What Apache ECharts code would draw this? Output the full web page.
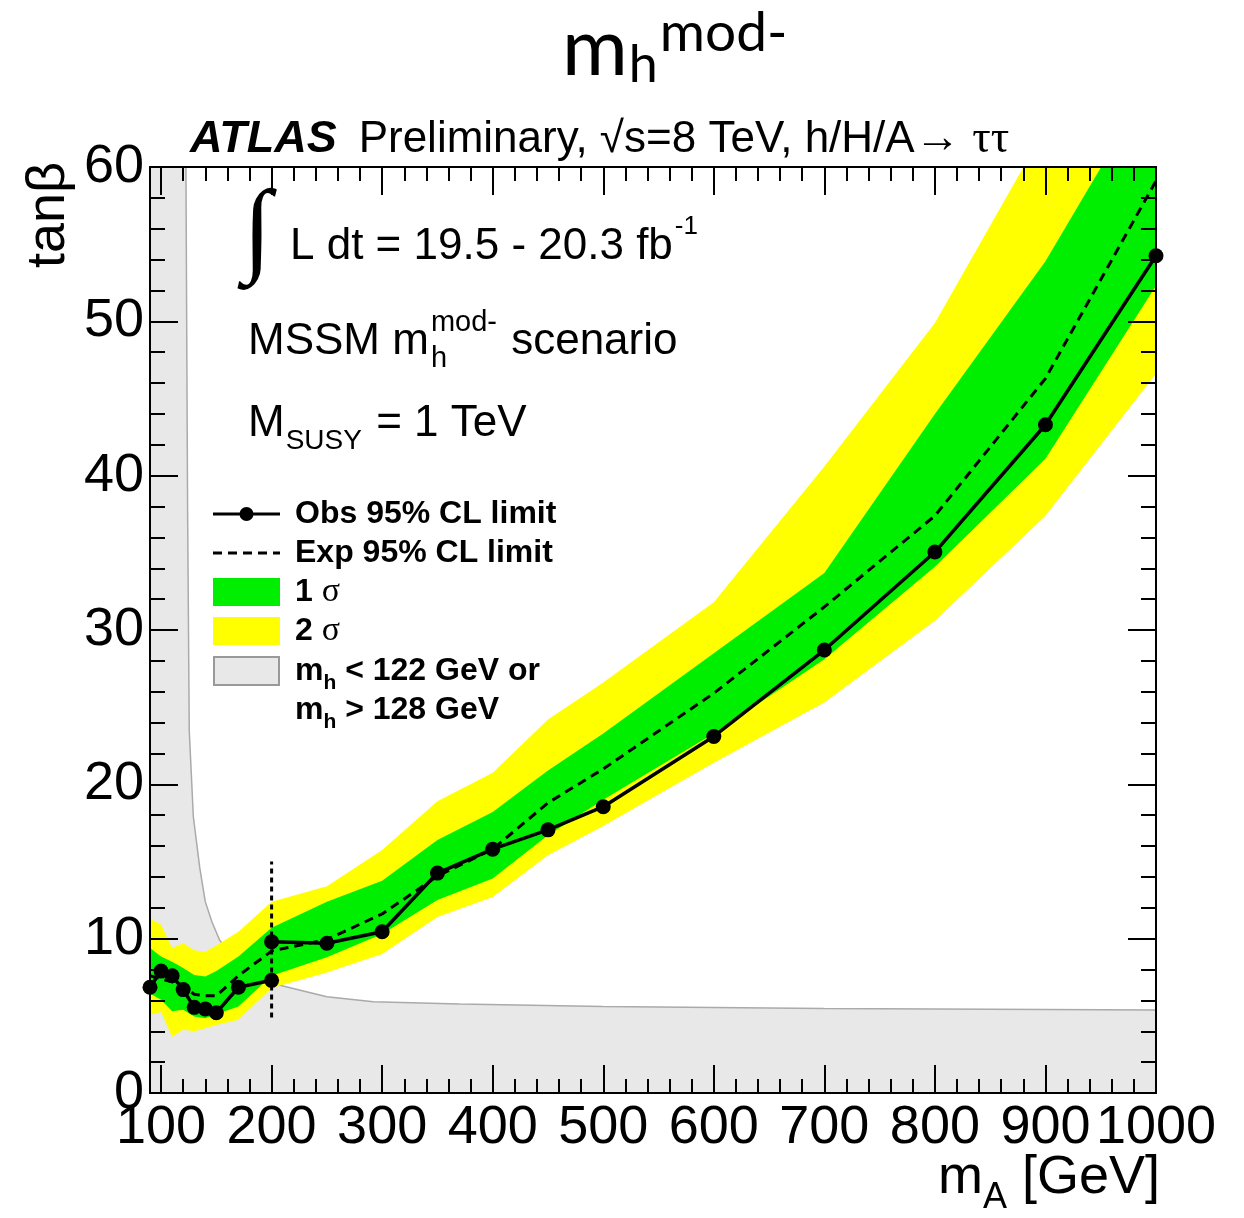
<!DOCTYPE html>
<html>
<head>
<meta charset="utf-8">
<script src="https://cdn.jsdelivr.net/npm/echarts@6/dist/echarts.min.js"></script>
<style>
  html, body { margin: 0; padding: 0; background: #fff; }
  #chart { width: 1244px; height: 1218px; }
</style>
</head>
<body>
<div id="chart"></div>
<script>
// ---- Limits in the (m_A, tan beta) plane ----
// mass points of the expected limit and its uncertainty bands [GeV]
const massPoints = [90, 100, 110, 120, 130, 140, 150, 170, 200, 250, 300, 350, 400, 450, 500, 600, 700, 800, 900, 1000];
const expLimit   = [7.6, 7.4, 7.2, 6.9, 6.4, 6.3, 6.3, 7.6, 9.2, 9.95, 11.6, 14.05, 15.8, 18.8, 21.0, 25.9, 31.5, 37.4, 46.3, 59.1];
const band1Up    = [9.4, 8.85, 8.5, 8.1, 7.65, 7.55, 7.9, 8.85, 10.7, 12.4, 13.75, 16.4, 18.2, 20.9, 23.3, 28.5, 33.7, 44.0, 53.9, 66.0];
const band1Down  = [6.45, 6.05, 5.3, 5.4, 4.95, 4.85, 5.1, 5.6, 7.6, 8.8, 10.3, 12.5, 13.9, 16.7, 19.0, 23.3, 28.1, 34.1, 41.1, 52.3];
const band2Up    = [11.3, 10.9, 9.4, 9.7, 9.25, 9.15, 9.55, 10.45, 12.4, 13.4, 15.75, 18.9, 20.75, 24.2, 26.6, 31.8, 40.6, 49.9, 62.5, 73.0];
const band2Down  = [5.05, 5.25, 3.65, 4.1, 4.0, 4.2, 4.4, 4.75, 6.8, 7.8, 9.0, 11.4, 12.7, 15.4, 17.3, 21.4, 25.3, 30.6, 37.4, 46.6];

// observed limit: low-mass and high-mass analyses, both evaluated at 200 GeV
const obsLowMass  = [90, 100, 110, 120, 130, 140, 150, 170, 200];
const obsLowTanb  = [6.85, 7.9, 7.6, 6.7, 5.55, 5.45, 5.2, 6.85, 7.3];
const obsHighMass = [200, 250, 300, 350, 400, 450, 500, 600, 700, 800, 900, 1000];
const obsHighTanb = [9.8, 9.7, 10.45, 14.25, 15.8, 17.05, 18.55, 23.1, 28.7, 35.05, 43.3, 54.25];

// boundary of the region where m_h < 122 GeV or m_h > 128 GeV
const mhEdgeMass = [90, 122.5, 124.0, 125.5, 129.2, 135, 140, 146, 153, 170, 201, 250, 292, 370, 500, 700, 1000];
const mhEdgeTanb = [60, 60, 38, 23.5, 17.9, 14.6, 12.4, 11.1, 9.9, 8.4, 7.1, 6.24, 5.92, 5.77, 5.6, 5.48, 5.38];

// analysis switch-over marker at 200 GeV
const switchMass = [200, 200];
const switchTanb = [4.9, 15];

// axis ticks
const xMajorTicks = [100, 200, 300, 400, 500, 600, 700, 800, 900, 1000];
const xMinorTicks = [120, 140, 160, 180, 220, 240, 260, 280, 320, 340, 360, 380, 420, 440, 460, 480,
                     520, 540, 560, 580, 620, 640, 660, 680, 720, 740, 760, 780, 820, 840, 860, 880, 920, 940, 960, 980];

const SANS = "'Liberation Sans', Arial, Helvetica, sans-serif";
const SERIF = "'Liberation Serif', 'Times New Roman', serif";
const TITLEFONT = "Lato, 'Open Sans', sans-serif";

const zip = (xs, ys) => xs.map((x, i) => [x, ys[i]]);

// ---- text helpers: runs of text placed on a common baseline ----
const mctx = document.createElement('canvas').getContext('2d');
function fontOf(r) {
  return (r.style || 'normal') + ' ' + (r.weight || 'normal') + ' ' + r.size + 'px ' + (r.family || SANS);
}
function midOffset(fam) {
  if (fam.indexOf('Lato') >= 0) return 0.387;
  if (fam.indexOf('Serif') >= 0) return 0.3375;
  return 0.3465;
}
function runText(x, baseline, runs) {
  const els = [];
  let cx = x, lastStart = x, maxEnd = x;
  runs.forEach(r => {
    const fam = r.family || SANS;
    mctx.font = fontOf(r);
    const w = mctx.measureText(r.text).width;
    let start = r.sameX ? lastStart : cx;
    start += (r.dx || 0);
    const by = baseline + (r.dy || 0);
    els.push({
      type: 'text', x: start, y: by - midOffset(fam) * r.size, silent: true, z: 100,
      style: { text: r.text, font: fontOf(r), fill: '#000',
               align: 'left', verticalAlign: 'middle', textAlign: 'left', textVerticalAlign: 'middle' }
    });
    lastStart = start;
    maxEnd = r.sameX ? Math.max(maxEnd, start + w) : start + w;
    cx = maxEnd;
  });
  return els;
}

// ---- band polygons through the axis scales ----
function bandSeries(name, upper, lower, color, z) {
  return {
    type: 'custom', name: name, z: z, clip: true, silent: true,
    data: [[massPoints[0], lower[0]]],
    renderItem: function (params, api) {
      const pts = [];
      for (let i = 0; i < massPoints.length; i++) pts.push(api.coord([massPoints[i], upper[i]]));
      for (let i = massPoints.length - 1; i >= 0; i--) pts.push(api.coord([massPoints[i], lower[i]]));
      return { type: 'polygon', shape: { points: pts }, style: { fill: color, stroke: null } };
    }
  };
}

function xAxisDef(position, ticks, len, labels) {
  return {
    type: 'value', position: position, min: 90, max: 1000, z: 20,
    axisLine: { show: true, onZero: false, lineStyle: { color: '#000', width: 2 } },
    splitLine: { show: false },
    axisTick: { show: true, inside: true, length: len, customValues: ticks, lineStyle: { color: '#000', width: 2 } },
    axisLabel: labels ? {
      show: true, customValues: xMajorTicks, margin: 8, color: '#000',
      fontSize: 54, fontFamily: SANS, showMinLabel: true, showMaxLabel: true, hideOverlap: false,
      formatter: v => String(v)
    } : { show: false, customValues: ticks }
  };
}
function yAxisDef(position, labels) {
  return {
    type: 'value', position: position, min: 0, max: 60, interval: 10, z: 20,
    axisLine: { show: true, onZero: false, lineStyle: { color: '#000', width: 2 } },
    splitLine: { show: false },
    axisTick: { show: true, inside: true, length: 28, lineStyle: { color: '#000', width: 2 } },
    minorTick: { show: true, splitNumber: 5, length: 15, lineStyle: { color: '#000', width: 2 } },
    axisLabel: labels ? { show: true, margin: 6, color: '#000', fontSize: 54, fontFamily: SANS } : { show: false }
  };
}

const graphics = [].concat(
  // page title
  runText(562, 80, [
    { text: 'm', size: 80, family: TITLEFONT },
    { text: 'h', size: 52, family: TITLEFONT, dy: 5, dx: 1 },
    { text: 'mod-', size: 55, family: TITLEFONT, dy: -25, dx: 2 }
  ]),
  // experiment header
  runText(190, 155, [
    { text: 'ATLAS', size: 45, weight: 'bold', style: 'italic' },
    { text: 'Preliminary, \u221As=8 TeV, h/H/A', size: 44, dx: 22 },
    { text: '\u2192 \u03C4\u03C4', size: 46, family: SERIF }
  ]),
  // luminosity
  runText(243, 270, [{ text: '\u222B', size: 104, family: SERIF }]),
  runText(290, 262, [
    { text: 'L dt = 19.5 - 20.3 fb', size: 44 },
    { text: '-1', size: 26, dy: -26, dx: 2 }
  ]),
  // scenario
  runText(248, 357, [
    { text: 'MSSM m', size: 44 },
    { text: 'h', size: 29, dy: 12, dx: 2 },
    { text: 'mod-', size: 29, dy: -24, sameX: true },
    { text: ' scenario', size: 44, dx: 2 }
  ]),
  runText(248, 439, [
    { text: 'M', size: 44 },
    { text: 'SUSY', size: 28, dy: 12, dx: 1 },
    { text: ' = 1 TeV', size: 44, dx: 2 }
  ]),
  // legend
  [
    { type: 'line', silent: true, z: 100, shape: { x1: 213, y1: 514, x2: 280, y2: 514 }, style: { stroke: '#000', lineWidth: 3 } },
    { type: 'circle', silent: true, z: 101, shape: { cx: 246.5, cy: 514, r: 7 }, style: { fill: '#000' } },
    { type: 'line', silent: true, z: 100, shape: { x1: 213, y1: 553, x2: 280, y2: 553 }, style: { stroke: '#000', lineWidth: 3, lineDash: [9, 6] } },
    { type: 'rect', silent: true, z: 100, shape: { x: 213, y: 578, width: 67, height: 28 }, style: { fill: '#00ee00' } },
    { type: 'rect', silent: true, z: 100, shape: { x: 213, y: 617, width: 67, height: 28 }, style: { fill: '#ffff00' } },
    { type: 'rect', silent: true, z: 100, shape: { x: 214, y: 657, width: 65, height: 28 }, style: { fill: '#e8e8e8', stroke: '#999', lineWidth: 2 } }
  ],
  runText(295, 525.5, [{ text: 'Obs 95% CL limit', size: 32, weight: 'bold' }]),
  runText(295, 564.5, [{ text: 'Exp 95% CL limit', size: 32, weight: 'bold' }]),
  runText(295, 603.5, [{ text: '1 ', size: 32, weight: 'bold' }, { text: '\u03C3', size: 34, family: SERIF }]),
  runText(295, 642.5, [{ text: '2 ', size: 32, weight: 'bold' }, { text: '\u03C3', size: 34, family: SERIF }]),
  runText(295, 682.5, [
    { text: 'm', size: 32, weight: 'bold' },
    { text: 'h', size: 21, weight: 'bold', dy: 8 },
    { text: ' < 122 GeV or', size: 32, weight: 'bold' }
  ]),
  runText(295, 721.5, [
    { text: 'm', size: 32, weight: 'bold' },
    { text: 'h', size: 21, weight: 'bold', dy: 8 },
    { text: ' > 128 GeV', size: 32, weight: 'bold' }
  ]),
  // axis titles
  runText(938, 1197, [
    { text: 'm', size: 54 },
    { text: 'A', size: 36, dy: 14 },
    { text: ' [GeV]', size: 54 }
  ]),
  [{
    type: 'text', x: 49, y: 268, rotation: Math.PI / 2, silent: true, z: 100,
    style: { text: 'tan\u03B2', font: 'normal normal 54px ' + SANS, fill: '#000',
             align: 'left', verticalAlign: 'middle', textAlign: 'left', textVerticalAlign: 'middle' }
  }]
);

const chart = echarts.init(document.getElementById('chart'), null, { renderer: 'canvas' });
chart.setOption({
  animation: false,
  backgroundColor: '#fff',
  grid: { left: 150, top: 167, width: 1006, height: 926, show: true, borderColor: '#000', borderWidth: 2, backgroundColor: 'transparent', z: 10 },
  xAxis: [
    xAxisDef('bottom', xMajorTicks, 28, true),
    xAxisDef('bottom', xMinorTicks, 14, false),
    xAxisDef('top', xMajorTicks, 28, false),
    xAxisDef('top', xMinorTicks, 14, false)
  ],
  yAxis: [yAxisDef('left', true), yAxisDef('right', false)],
  series: [
    {
      name: 'm_h < 122 GeV or m_h > 128 GeV', type: 'line', z: 1, silent: true,
      data: zip(mhEdgeMass, mhEdgeTanb), symbol: 'none',
      lineStyle: { color: '#aaaaaa', width: 1.5 },
      areaStyle: { color: '#e8e8e8', opacity: 1 }
    },
    bandSeries('2 sigma', band2Up, band2Down, '#ffff00', 2),
    bandSeries('1 sigma', band1Up, band1Down, '#00ee00', 3),
    {
      name: 'Exp 95% CL limit', type: 'line', z: 4, silent: true,
      data: zip(massPoints, expLimit), symbol: 'none',
      lineStyle: { color: '#000', width: 3, type: [9, 6] }
    },
    {
      name: 'analysis switch', type: 'line', z: 4, silent: true,
      data: zip(switchMass, switchTanb), symbol: 'none',
      lineStyle: { color: '#000', width: 3, type: [5, 4] }
    },
    {
      name: 'Obs 95% CL limit', type: 'line', z: 5, silent: true,
      data: zip(obsLowMass, obsLowTanb), symbol: 'circle', symbolSize: 15,
      itemStyle: { color: '#000' }, lineStyle: { color: '#000', width: 3.5 }
    },
    {
      name: 'Obs 95% CL limit', type: 'line', z: 5, silent: true,
      data: zip(obsHighMass, obsHighTanb), symbol: 'circle', symbolSize: 15,
      itemStyle: { color: '#000' }, lineStyle: { color: '#000', width: 3.5 }
    }
  ],
  graphic: graphics
});
</script>
</body>
</html>
